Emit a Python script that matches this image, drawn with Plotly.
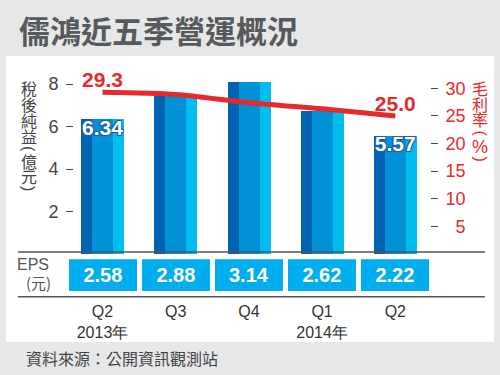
import plotly.graph_objects as go

# ---- data ----
categories = ["2013Q2", "2013Q3", "2013Q4", "2014Q1", "2014Q2"]
tick_labels = ["Q2<br>2013年", "Q3", "Q4", "Q1<br>2014年", "Q2"]
net_income = [6.34, 7.45, 8.1, 6.75, 5.57]          # 稅後純益 (億元)
net_income_labels = ["6.34", "", "", "", "5.57"]
gross_margin = [29.3, 28.9, 27.4, 26.3, 25.0]        # 毛利率 (%)
gross_margin_labels = ["29.3", "", "", "", "25.0"]
eps = [2.58, 2.88, 3.14, 2.62, 2.22]                 # EPS (元)
left_ticks = [2, 4, 6, 8]
right_ticks = [5, 10, 15, 20, 25, 30]
left_title = ["稅", "後", "純", "益", "(", "億", "元", ")"]
right_title = ["毛", "利", "率", "(", "%", ")"]

W, H = 500, 375
BG = "#e6e7e9"
DARK = "#0063b1"
MID = "#0091d6"
LIGHT = "#00bdf0"
EPSC = "#00aeef"
RED = "#e8292b"
GRAY = "#444444"
CJK = "Noto Sans CJK TC"
LAT = "Liberation Sans"

def px(x):
    return x / W

def py(y):
    return (H - y) / H

fig = go.Figure()

# three-tone bars
for off, wid, col in [(-0.2937, 0.1503, DARK), (-0.1434, 0.2869, MID), (0.1434, 0.1503, LIGHT)]:
    fig.add_trace(go.Bar(x=categories, y=net_income, offset=off, width=wid,
                         marker=dict(color=col, line=dict(width=0)),
                         yaxis="y", hoverinfo="skip", showlegend=False))

# bar labels
fig.add_trace(go.Scatter(x=categories, y=net_income, mode="text", text=net_income_labels,
                         textposition="bottom center", yaxis="y", cliponaxis=False,
                         textfont=dict(family=LAT, size=21, color="white", weight="bold",
                                       shadow="-1px -1px 0 #1b5fa8, 1px -1px 0 #1b5fa8, -1px 1px 0 #1b5fa8, 1px 1px 0 #1b5fa8, 0 0 2px #1b5fa8"),
                         showlegend=False, hoverinfo="skip"))

# gross margin line
fig.add_trace(go.Scatter(x=categories, y=gross_margin, mode="lines+text", yaxis="y2",
                         text=gross_margin_labels, textposition="top center",
                         line=dict(color=RED, width=5, shape="spline", smoothing=0.8),
                         textfont=dict(family=LAT, size=21, color=RED, weight="bold"),
                         cliponaxis=False, showlegend=False, hoverinfo="skip"))

# EPS boxes
fig.add_trace(go.Bar(x=categories, y=[1] * len(eps), yaxis="y3", width=0.93,
                     text=[f"{v:.2f}" for v in eps], textposition="inside",
                     insidetextanchor="middle", constraintext="none",
                     textfont=dict(family=LAT, size=20, color="white", weight="bold"),
                     marker=dict(color=EPSC, line=dict(width=0)),
                     showlegend=False, hoverinfo="skip"))

x0, x1 = 65.9, 431.9
ytop, ybot = 56, 254
plot_h = ybot - ytop

fig.update_layout(
    width=W, height=H, margin=dict(l=0, r=0, t=0, b=0),
    paper_bgcolor=BG, plot_bgcolor="rgba(0,0,0,0)",
    barmode="overlay", bargap=0,
    xaxis=dict(domain=[px(x0), px(x1)], range=[-0.5, 4.5], type="category",
               categoryorder="array", categoryarray=categories,
               tickvals=categories, ticktext=tick_labels,
               anchor="free", position=py(300), showline=False, ticks="",
               showgrid=False, zeroline=False,
               tickfont=dict(family=LAT, size=16, color="#333333")),
    yaxis=dict(domain=[py(ybot), py(ytop)], range=[0, plot_h / 21.25],
               anchor="free", position=px(73), tickvals=left_ticks,
               ticks="outside", ticklen=7, tickwidth=1, tickcolor=GRAY,
               ticklabelstandoff=4,
               showgrid=False, zeroline=False, showline=False,
               tickfont=dict(family=LAT, size=18, color=GRAY)),
    yaxis2=dict(domain=[py(ybot), py(ytop)], range=[0, plot_h / 5.523],
                overlaying="y", side="right", anchor="free", position=px(430),
                tickvals=right_ticks,
                ticktext=[("\u2007" + str(v)) if v < 10 else str(v) for v in right_ticks],
                ticks="outside", ticklen=7, tickwidth=1, tickcolor=GRAY,
                ticklabelstandoff=4,
                showgrid=False, zeroline=False, showline=False,
                tickfont=dict(family=LAT, size=18, color=RED)),
    yaxis3=dict(domain=[py(291.7), py(259.3)], range=[0, 1], anchor="x",
                visible=False, showgrid=False),
)

shapes = [
    dict(type="rect", xref="paper", yref="paper", x0=px(6), x1=px(494), y0=py(342), y1=py(56),
         fillcolor="white", line=dict(width=0), layer="below"),
    dict(type="line", xref="paper", yref="paper", x0=px(18), x1=px(485), y0=py(252), y1=py(252),
         line=dict(color="#555555", width=1.5)),
    dict(type="line", xref="paper", yref="paper", x0=px(18), x1=px(485), y0=py(296.7), y1=py(296.7),
         line=dict(color="#555555", width=1.5)),
]
fig.update_layout(shapes=shapes)

annotations = [
    dict(text="儒鴻近五季營運概況", x=px(17), y=py(29), xref="paper", yref="paper",
         xanchor="left", yanchor="middle", showarrow=False,
         font=dict(family=CJK, size=31, color="#58595b", weight="bold")),
    dict(text="資料來源：公開資訊觀測站", x=px(24), y=py(358), xref="paper", yref="paper",
         xanchor="left", yanchor="middle", showarrow=False,
         font=dict(family=CJK, size=16, color=GRAY)),
    dict(text="EPS", x=px(33), y=py(264), xref="paper", yref="paper",
         xanchor="center", yanchor="middle", showarrow=False,
         font=dict(family=LAT, size=16, color="#555555")),
    dict(text="(元)", x=px(38), y=py(282), xref="paper", yref="paper",
         xanchor="center", yanchor="middle", showarrow=False,
         font=dict(family=CJK, size=15, color="#555555")),
]

def add_vertical(chars, ys, xc, color):
    for ch, yy in zip(chars, ys):
        is_paren = ch in "()"
        annotations.append(dict(
            text=ch, x=px(xc), y=py(yy), xref="paper", yref="paper",
            xanchor="center", yanchor="middle", showarrow=False,
            textangle=90 if is_paren else 0,
            font=dict(family=LAT if (is_paren or ch == "%") else CJK,
                      size=18 if ch == "%" else 16, color=color)))

add_vertical(left_title, [88, 104, 120, 136, 148.5, 160.5, 175.5, 188.5], 28.5, GRAY)
add_vertical(right_title, [88, 103.5, 119, 133.5, 146.5, 158.5], 480, RED)
fig.update_layout(annotations=annotations)

fig.write_html("out.html", config={"displayModeBar": False},
               post_script="document.body.style.margin='0';")
